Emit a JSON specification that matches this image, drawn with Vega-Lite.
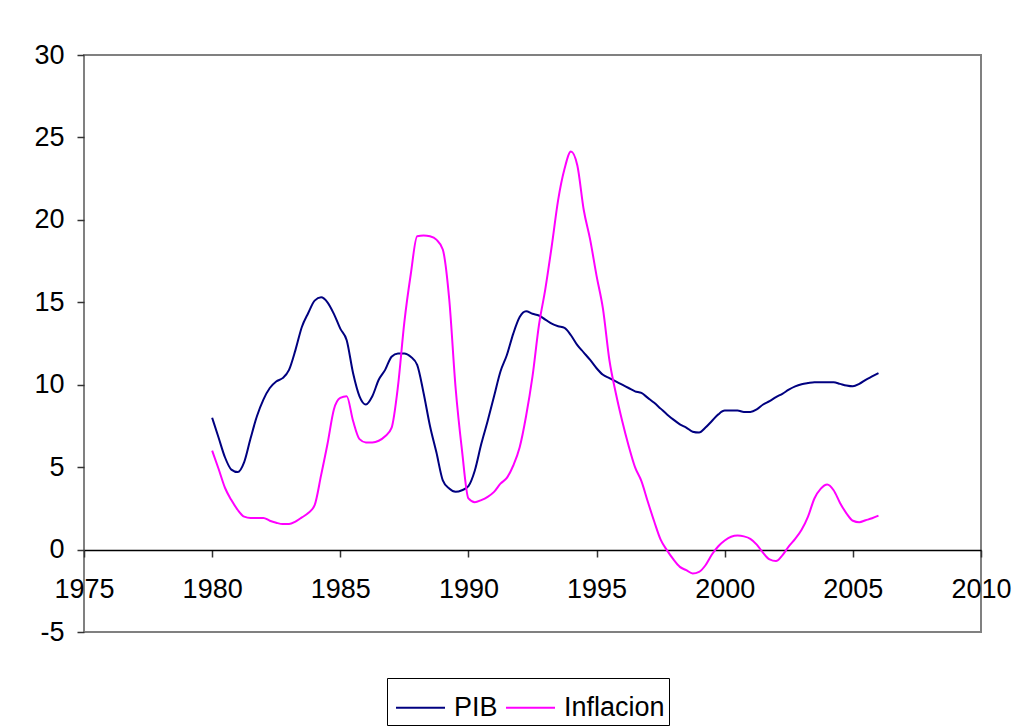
{
  "$schema": "https://vega.github.io/schema/vega-lite/v6.json",
  "width": 897,
  "height": 577,
  "autosize": {"type": "none"},
  "padding": {"left": 84, "top": 55, "right": 44, "bottom": 95},
  "background": "white",
  "config": {
    "font": "Liberation Sans",
    "view": {"stroke": "#808080", "strokeWidth": 2},
    "axis": {"grid": false, "title": null}
  },
  "datasets": {
    "pib": [
      [1980.00,8.0],[1980.25,6.8],[1980.50,5.6],[1980.75,4.85],[1981.00,4.7],[1981.25,5.3],[1981.50,6.75],[1981.75,8.1],
      [1982.00,9.1],[1982.25,9.8],[1982.50,10.2],[1982.75,10.4],[1983.00,10.9],[1983.25,12.1],[1983.50,13.5],[1983.75,14.35],
      [1984.00,15.1],[1984.25,15.3],[1984.50,15.0],[1984.75,14.3],[1985.00,13.4],[1985.25,12.7],[1985.50,10.7],[1985.75,9.3],
      [1986.00,8.8],[1986.25,9.3],[1986.50,10.3],[1986.75,10.9],[1987.00,11.7],[1987.25,11.9],[1987.50,11.9],[1987.75,11.7],
      [1988.00,11.2],[1988.25,9.5],[1988.50,7.5],[1988.75,5.9],[1989.00,4.2],[1989.25,3.7],[1989.50,3.5],[1989.75,3.6],
      [1990.00,3.85],[1990.25,4.8],[1990.50,6.4],[1990.75,7.8],[1991.00,9.3],[1991.25,10.8],[1991.50,11.8],[1991.75,13.1],
      [1992.00,14.1],[1992.25,14.45],[1992.50,14.3],[1992.75,14.2],[1993.00,13.95],[1993.25,13.7],[1993.50,13.55],[1993.75,13.45],
      [1994.00,13.0],[1994.25,12.4],[1994.50,11.95],[1994.75,11.5],[1995.00,11.0],[1995.25,10.6],[1995.50,10.4],[1995.75,10.2],
      [1996.00,10.0],[1996.25,9.8],[1996.50,9.6],[1996.75,9.5],[1997.00,9.2],[1997.25,8.9],[1997.50,8.55],[1997.75,8.2],
      [1998.00,7.88],[1998.25,7.6],[1998.50,7.4],[1998.75,7.15],[1999.00,7.1],[1999.25,7.4],[1999.50,7.8],[1999.75,8.2],
      [2000.00,8.43],[2000.25,8.43],[2000.50,8.43],[2000.75,8.35],[2001.00,8.35],[2001.25,8.5],[2001.50,8.8],[2001.75,9.0],
      [2002.00,9.25],[2002.25,9.45],[2002.50,9.7],[2002.75,9.9],[2003.00,10.03],[2003.25,10.1],[2003.50,10.15],[2003.75,10.15],
      [2004.00,10.15],[2004.25,10.15],[2004.50,10.05],[2004.75,9.95],[2005.00,9.9],[2005.25,10.05],[2005.50,10.3],[2005.75,10.5],
      [2006.00,10.7]
    ],
    "inf": [
      [1980.00,6.0],[1980.25,4.9],[1980.50,3.75],[1980.75,3.0],[1981.00,2.4],[1981.25,2.0],[1981.50,1.92],[1981.75,1.92],
      [1982.00,1.92],[1982.25,1.75],[1982.50,1.63],[1982.75,1.55],[1983.00,1.55],[1983.25,1.7],[1983.50,1.95],[1983.75,2.22],
      [1984.00,2.7],[1984.25,4.5],[1984.50,6.4],[1984.75,8.5],[1985.00,9.2],[1985.25,9.3],[1985.50,7.8],[1985.75,6.7],
      [1986.00,6.5],[1986.25,6.5],[1986.50,6.6],[1986.75,6.87],[1987.00,7.38],[1987.25,9.9],[1987.50,13.8],[1987.75,16.7],
      [1988.00,19.0],[1988.25,19.05],[1988.50,19.0],[1988.75,18.8],[1989.00,18.2],[1989.25,15.2],[1989.50,9.8],[1989.75,6.0],
      [1990.00,3.1],[1990.25,2.87],[1990.50,3.0],[1990.75,3.2],[1991.00,3.5],[1991.25,4.0],[1991.50,4.35],[1991.75,5.1],
      [1992.00,6.2],[1992.25,8.1],[1992.50,10.5],[1992.75,13.6],[1993.00,15.8],[1993.25,18.4],[1993.50,21.2],[1993.75,23.1],
      [1994.00,24.15],[1994.25,23.3],[1994.50,20.6],[1994.75,18.8],[1995.00,16.6],[1995.25,14.6],[1995.50,11.5],[1995.75,9.5],
      [1996.00,7.8],[1996.25,6.3],[1996.50,5.0],[1996.75,4.15],[1997.00,2.9],[1997.25,1.7],[1997.50,0.6],[1997.75,-0.05],
      [1998.00,-0.6],[1998.25,-1.05],[1998.50,-1.25],[1998.75,-1.45],[1999.00,-1.35],[1999.25,-0.95],[1999.50,-0.3],[1999.75,0.2],
      [2000.00,0.55],[2000.25,0.78],[2000.50,0.85],[2000.75,0.8],[2001.00,0.65],[2001.25,0.3],[2001.50,-0.2],[2001.75,-0.6],
      [2002.00,-0.7],[2002.25,-0.35],[2002.50,0.2],[2002.75,0.65],[2003.00,1.2],[2003.25,2.0],[2003.50,3.1],[2003.75,3.7],
      [2004.00,3.95],[2004.25,3.6],[2004.50,2.83],[2004.75,2.2],[2005.00,1.75],[2005.25,1.66],[2005.50,1.78],[2005.75,1.9],
      [2006.00,2.06]
    ]
  },
  "data": {"values": []},
  "layer": [
    {
      "data": {"name": "pib"},
      "transform": [
        {"calculate": "datum[0]", "as": "t"},
        {"calculate": "datum[1]", "as": "v"},
        {"calculate": "'PIB'", "as": "serie"}
      ],
      "mark": {"type": "line", "strokeWidth": 2, "interpolate": "monotone"},
      "encoding": {
        "x": {"field": "t", "type": "quantitative"},
        "y": {"field": "v", "type": "quantitative"},
        "color": {"field": "serie", "type": "nominal"}
      }
    },
    {
      "data": {"name": "inf"},
      "transform": [
        {"calculate": "datum[0]", "as": "t"},
        {"calculate": "datum[1]", "as": "v"},
        {"calculate": "'Inflacion'", "as": "serie"}
      ],
      "mark": {"type": "line", "strokeWidth": 2, "interpolate": "monotone"},
      "encoding": {
        "x": {
          "field": "t", "type": "quantitative",
          "scale": {"domain": [1975, 2010], "nice": false, "zero": false},
          "axis": {
            "values": [1975, 1980, 1985, 1990, 1995, 2000, 2005, 2010],
            "labelExpr": "'' + datum.value",
            "offset": -82,
            "domainColor": "black", "domainWidth": 1.5,
            "tickColor": "#333333", "tickSize": 7, "tickWidth": 1.5,
            "labelFontSize": 27, "labelColor": "black", "labelPadding": 19,
            "labelFlush": false, "labelOverlap": false
          }
        },
        "y": {
          "field": "v", "type": "quantitative",
          "scale": {"domain": [-5, 30], "nice": false, "zero": false},
          "axis": {
            "values": [-5, 0, 5, 10, 15, 20, 25, 30],
            "labelExpr": "'' + datum.value",
            "domain": false,
            "tickColor": "#333333", "tickSize": 7, "tickWidth": 1.5,
            "labelFontSize": 27, "labelColor": "black", "labelPadding": 13
          }
        },
        "color": {
          "field": "serie", "type": "nominal",
          "scale": {"domain": ["PIB", "Inflacion"], "range": ["#000080", "#FF00FF"]},
          "legend": {
            "title": null,
            "orient": "none",
            "legendX": 303,
            "legendY": 623,
            "direction": "horizontal",
            "symbolType": "stroke",
            "symbolSize": 2401,
            "symbolStrokeWidth": 2,
            "symbolOffset": 4,
            "labelFontSize": 27,
            "labelColor": "black",
            "labelOffset": 8,
            "columnPadding": 3,
            "padding": 4,
            "strokeColor": "black",
            "fillColor": "white"
          }
        }
      }
    }
  ]
}
